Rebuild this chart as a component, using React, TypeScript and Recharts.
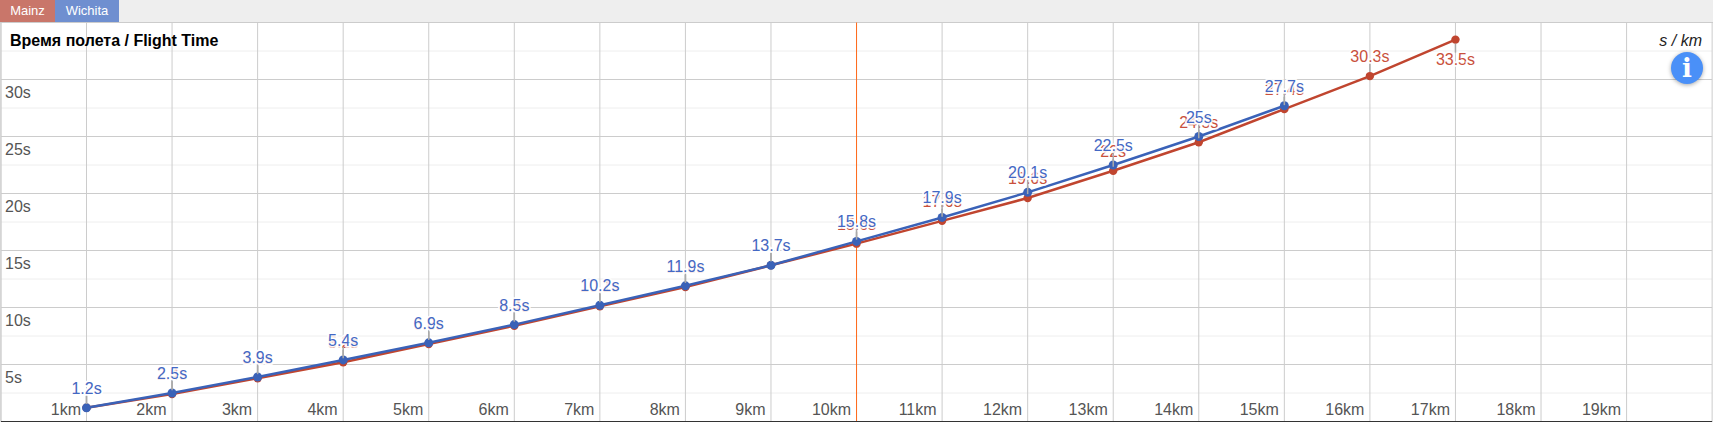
import { CartesianGrid, Line, LineChart, ReferenceLine, XAxis, YAxis } from 'recharts'

const KM = [1, 2, 3, 4, 5, 6, 7, 8, 9, 10, 11, 12, 13, 14, 15, 16, 17]
const MAINZ = [1.2, 2.4, 3.8, 5.2, 6.8, 8.4, 10.1, 11.8, 13.7, 15.6, 17.6, 19.6, 22, 24.5, 27.4, 30.3, 33.5]
const WICHITA = [1.2, 2.5, 3.9, 5.4, 6.9, 8.5, 10.2, 11.9, 13.7, 15.8, 17.9, 20.1, 22.5, 25, 27.7]
const X_TICKS = [1, 2, 3, 4, 5, 6, 7, 8, 9, 10, 11, 12, 13, 14, 15, 16, 17, 18, 19]
const Y_TICKS = [5, 10, 15, 20, 25, 30]
const Y_MINOR = [2.5, 7.5, 12.5, 17.5, 22.5, 27.5, 32.5]

const data = KM.map((km, i) => ({ km, mainz: MAINZ[i], wichita: WICHITA[i] }))

const FONT = 'Arial, "Liberation Sans", sans-serif'
const RED = '#c0452f'
const BLUE = '#3a62b8'

function XTick({ x, payload }: any) {
  return (
    <text x={x - 5.5} y={393} textAnchor="end" fontSize={16} fontFamily={FONT} fill="#555">
      {payload.value}km
    </text>
  )
}

function YTick({ y, payload }: any) {
  return (
    <text x={5} y={y + 18} fontSize={16} fontFamily={FONT} fill="#555">
      {payload.value}s
    </text>
  )
}

// value label with a small stem, the last point of a series gets it below
function pointLabel(color: string, belowKm?: number) {
  return ({ x, y, value, index }: any) => {
    if (value == null) return <g key={index} />
    const below = KM[index] === belowKm
    const dir = below ? 1 : -1
    return (
      <g key={index}>
        <line x1={x} x2={x} y1={y + dir * 4} y2={y + dir * 13} stroke="#aaa" strokeWidth={1.5} />
        <text
          x={x}
          y={below ? y + 25 : y - 14}
          textAnchor="middle"
          fontSize={16}
          fontFamily={FONT}
          fill={color}
          stroke="rgba(255,255,255,0.9)"
          strokeWidth={3.5}
          paintOrder="stroke"
        >
          {value}s
        </text>
      </g>
    )
  }
}

export default function App() {
  return (
    <div style={{ position: 'relative', width: 1713, height: 422, overflow: 'hidden', background: '#fff', fontFamily: FONT }}>
      <style>{'body{margin:0}'}</style>
      <div style={{ position: 'absolute', left: 0, top: 0, width: 1713, height: 22, background: '#eee', borderBottom: '1px solid #ccc', boxSizing: 'content-box', fontSize: 13, color: '#fff', lineHeight: '22px' }}>
        <span style={{ position: 'absolute', left: 0, width: 55, height: 22, background: '#c9766a', textAlign: 'center' }}>Mainz</span>
        <span style={{ position: 'absolute', left: 55, width: 64, height: 22, background: '#6f8fd0', textAlign: 'center' }}>Wichita</span>
      </div>
      <div style={{ position: 'absolute', left: 0, top: 22 }}>
        <LineChart width={1714} height={400} data={data} margin={{ top: 0.5, right: 1.86, bottom: -0.5, left: -0.06 }}>
          <CartesianGrid vertical={false} stroke="#eee" horizontalValues={Y_MINOR} />
          <CartesianGrid stroke="#ccc" strokeWidth={1} />
          <ReferenceLine x={0} stroke="#ccc" />
          <ReferenceLine x={10} stroke="#ff6a1a" strokeWidth={1} />
          <XAxis
            type="number"
            dataKey="km"
            domain={[0, 20]}
            ticks={X_TICKS}
            interval={0}
            height={1}
            tickLine={false}
            axisLine={{ stroke: '#333' }}
            tick={<XTick />}
          />
          <YAxis
            type="number"
            domain={[0, 35]}
            ticks={Y_TICKS}
            interval={0}
            width={1}
            tickLine={false}
            axisLine={false}
            tick={<YTick />}
          />
          <Line
            dataKey="mainz"
            stroke={RED}
            strokeWidth={2.5}
            dot={{ r: 4.2, fill: RED, stroke: RED, strokeWidth: 0 }}
            label={pointLabel('#c9503c', 17)}
            isAnimationActive={false}
          />
          <Line
            dataKey="wichita"
            stroke={BLUE}
            strokeWidth={2.5}
            dot={{ r: 4.5, fill: BLUE, stroke: BLUE, strokeWidth: 0 }}
            label={pointLabel('#4468c4')}
            isAnimationActive={false}
          />
        </LineChart>
      </div>
      <div style={{ position: 'absolute', left: 10, top: 32, fontSize: 16, fontWeight: 'bold', color: '#000', lineHeight: '17px' }}>
        Время полета / Flight Time
      </div>
      <div style={{ position: 'absolute', right: 11, top: 32, fontSize: 16, fontStyle: 'italic', color: '#222', lineHeight: '17px' }}>
        s / km
      </div>
      <div style={{ position: 'absolute', left: 1671, top: 52, width: 32, height: 32, borderRadius: 16, background: '#4a90f8', boxShadow: '0 1px 4px rgba(0,0,0,0.35)', color: '#fff', textAlign: 'center', fontFamily: '"DejaVu Serif", serif', fontWeight: 'bold', fontSize: 26, lineHeight: '32px' }}>
        i
      </div>
    </div>
  )
}
